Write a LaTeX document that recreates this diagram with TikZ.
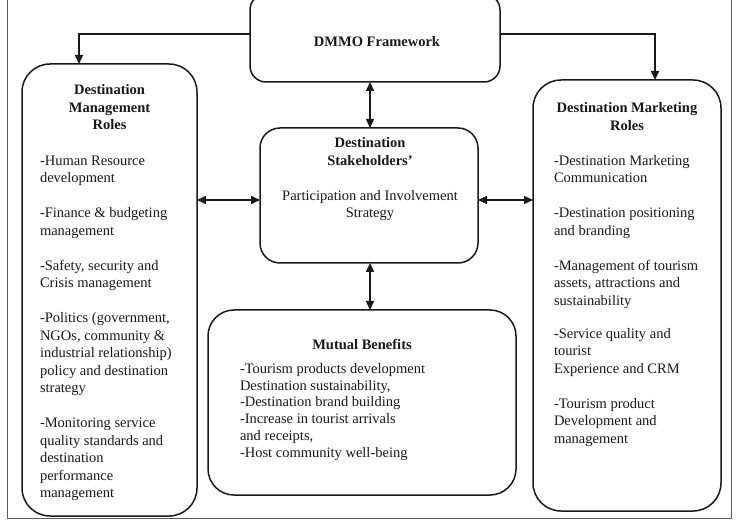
\documentclass[tikz,border=0pt]{standalone}
\usepackage{fontspec}
\setmainfont{Liberation Serif}
\usetikzlibrary{arrows.meta}
\begin{document}
\begin{tikzpicture}[x=1pt,y=-1pt,
  box/.style={draw=black!90, line width=1.5pt, inner sep=0pt, outer sep=0pt},
  arr/.style={draw=black!90, line width=1.5pt, -{Triangle[length=9pt,width=8pt]}},
  darr/.style={draw=black!90, line width=1.5pt, {Triangle[length=9pt,width=8pt]}-{Triangle[length=9pt,width=8pt]}},
  txt/.style={inner sep=0pt, outer sep=0pt, font=\fontsize{14.5}{17.5}\selectfont, text=black!90}]
\useasboundingbox (0,0) rectangle (736,526);
\fill[white] (0,0) rectangle (736,526);
% outer frame
\draw[black!65, line width=1pt] (7,-5) rectangle (731,518);
% boxes
\node[box, rounded corners=16pt, minimum width=250pt, minimum height=88pt] (dmmo) at (375,38) {};
\node[box, rounded corners=28pt, minimum width=175pt, minimum height=452pt] (left) at (109.5,290) {};
\node[box, rounded corners=28pt, minimum width=188pt, minimum height=431pt] (right) at (627,295.5) {};
\node[box, rounded corners=20pt, minimum width=218pt, minimum height=135pt] (center) at (369,195.5) {};
\node[box, rounded corners=26pt, minimum width=308pt, minimum height=185pt] (mutual) at (362,402.5) {};
% texts
\node[txt, anchor=base, font=\fontsize{14.5}{17.5}\selectfont\bfseries] (dmmot) at (377,47) {DMMO Framework};
\node[txt, anchor=north, align=center, font=\fontsize{14.5}{17.5}\selectfont\bfseries] (lefth) at (109.5,82.75) {\strut Destination\\Management\\Roles};
\node[txt, anchor=north west, align=left] (leftb) at (40,152.75) {\strut -Human Resource\\development\\[17.5pt]-Finance \& budgeting\\management\\[17.5pt]-Safety, security and\\Crisis management\\[17.5pt]-Politics (government,\\NGOs, community \&\\industrial relationship)\\policy and destination\\strategy\\[17.5pt]-Monitoring service\\quality standards and\\destination\\performance\\management};
\node[txt, anchor=north, align=center, font=\fontsize{14.5}{17.5}\selectfont\bfseries] (righth) at (627,100.75) {\strut Destination Marketing\\Roles};
\node[txt, anchor=north west, align=left] (rightb) at (554,152.75) {\strut -Destination Marketing\\Communication\\[17.5pt]-Destination positioning\\and branding\\[17.5pt]-Management of tourism\\assets, attractions and\\sustainability\\[15.5pt]-Service quality and\\tourist\\Experience and CRM\\[17.5pt]-Tourism product\\Development and\\management};
\node[txt, anchor=north, align=center] (centert) at (370,135.75) {\strut\textbf{Destination}\\\textbf{Stakeholders'}\\[17.5pt]Participation and Involvement\\Strategy};
\node[txt, anchor=base, font=\fontsize{14.5}{17.5}\selectfont\bfseries] (mutualh) at (362,350) {Mutual Benefits};
\node[txt, anchor=north west, align=left, font=\fontsize{14.5}{16.8}\selectfont] (mutualb) at (240,361.5) {\strut -Tourism products development\\Destination sustainability,\\-Destination brand building\\-Increase in tourist arrivals\\and receipts,\\-Host community well-being};
% connectors
\draw[arr] (dmmo.west |- 0,34) -| (left.north -| 79,0);
\draw[arr] (dmmo.east |- 0,34) -| (right.north -| 655,0);
\draw[darr] (dmmo.south -| 370,0) -- (center.north -| 370,0);
\draw[darr] (center.south -| 370,0) -- (mutual.north -| 370,0);
\draw[darr] (left.east |- 0,200) -- (center.west |- 0,200);
\draw[darr] (center.east |- 0,200) -- (right.west |- 0,200);
\end{tikzpicture}
\end{document}
